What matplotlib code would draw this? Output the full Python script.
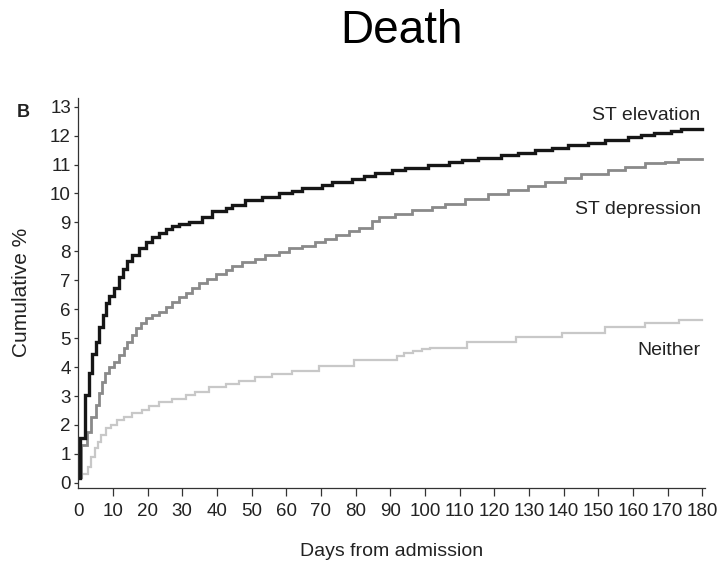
import matplotlib
matplotlib.use("Agg")
import matplotlib.pyplot as plt

plt.rcParams["font.family"] = ["Liberation Sans", "DejaVu Sans"]

# Cumulative mortality (%) by days from admission, step points (day, value)
elev_days = [0, 0.4, 2.0, 3.2, 3.9, 5.1, 6.0, 7.0, 8.0, 9.0, 10.4, 11.8, 13.0, 14.2,
             15.6, 17.6, 19.5, 21.4, 23.3, 25.2, 27.1, 29.0, 31.9, 35.8, 38.6, 42.5,
             44.3, 48.2, 53.0, 58.0, 61.7, 64.6, 70.3, 73.2, 79.0, 82.3, 85.7, 90.5,
             94.3, 101.0, 106.8, 110.6, 115.4, 122.0, 126.9, 131.7, 136.5, 141.3,
             147.0, 151.9, 158.6, 162.4, 166.2, 171.0, 173.9, 180.0]
elev_vals = [0.15, 1.55, 3.05, 3.8, 4.45, 4.88, 5.4, 5.8, 6.2, 6.44, 6.75, 7.1, 7.4, 7.65,
             7.88, 8.1, 8.33, 8.5, 8.65, 8.77, 8.86, 8.95, 9.03, 9.2, 9.38, 9.5,
             9.61, 9.76, 9.88, 10.0, 10.1, 10.18, 10.3, 10.38, 10.5, 10.62, 10.72, 10.82,
             10.88, 10.97, 11.08, 11.15, 11.22, 11.32, 11.41, 11.5, 11.57, 11.67,
             11.75, 11.85, 11.95, 12.03, 12.09, 12.15, 12.22, 12.22]

depr_days = [0, 0.7, 2.4, 3.6, 5.1, 6.0, 6.8, 7.8, 9.0, 10.4, 11.8, 13.2, 14.2, 15.6,
             16.6, 18.0, 19.5, 21.4, 23.3, 25.2, 27.1, 29.0, 31.0, 32.9, 34.8, 37.2,
             39.6, 42.5, 44.4, 47.3, 51.1, 54.0, 57.8, 60.7, 64.6, 68.4, 71.3, 74.2,
             78.0, 80.9, 84.7, 86.6, 91.4, 96.2, 102.0, 105.8, 111.6, 118.3, 124.0,
             129.8, 134.6, 140.3, 145.1, 152.8, 157.6, 163.4, 169.1, 173.0, 180.0]
depr_vals = [0.2, 1.3, 1.77, 2.28, 2.69, 3.09, 3.5, 3.79, 4.01, 4.19, 4.42, 4.65, 4.88, 5.11,
             5.34, 5.52, 5.69, 5.8, 5.92, 6.09, 6.26, 6.42, 6.55, 6.72, 6.9, 7.06,
             7.22, 7.36, 7.5, 7.62, 7.72, 7.88, 7.98, 8.1, 8.2, 8.32, 8.44, 8.56,
             8.7, 8.8, 9.05, 9.2, 9.3, 9.42, 9.53, 9.65, 9.82, 9.99, 10.12,
             10.26, 10.4, 10.52, 10.66, 10.8, 10.92, 11.04, 11.1, 11.2, 11.2]

neither_days = [0, 1.2, 2.8, 3.8, 4.8, 5.7, 6.7, 8.0, 9.5, 11.3, 13.3, 15.6, 18.5, 20.4,
                23.3, 27.1, 31.0, 33.8, 37.7, 42.5, 46.3, 51.1, 55.9, 61.7, 69.4, 79.4,
                91.9, 94.0, 96.5, 99.0, 101.5, 112.0, 126.4, 139.4, 151.9, 163.4, 173.4, 180.0]
neither_vals = [0.15, 0.32, 0.55, 0.9, 1.19, 1.42, 1.65, 1.88, 2.0, 2.17, 2.28, 2.4, 2.52, 2.67,
                2.8, 2.91, 3.02, 3.13, 3.3, 3.42, 3.53, 3.65, 3.77, 3.88, 4.05, 4.25,
                4.4, 4.47, 4.55, 4.62, 4.67, 4.88, 5.05, 5.19, 5.4, 5.52, 5.63, 5.63]

series_labels = ["ST elevation", "ST depression", "Neither"]
x_ticks = list(range(0, 181, 10))
y_ticks = list(range(0, 14))

fig = plt.figure(figsize=(7.22, 5.66), dpi=100)
ax = fig.add_axes([0.1084, 0.1373, 0.8682, 0.689])

ax.step(neither_days, neither_vals, where="post", color="#c8c8c8", lw=1.6,
        solid_joinstyle="miter")
ax.step(depr_days, depr_vals, where="post", color="#8a8a8a", lw=2.0,
        solid_joinstyle="miter")
ax.step(elev_days, elev_vals, where="post", color="#161616", lw=2.4,
        solid_joinstyle="miter")

ax.set_xlim(0, 180.8)
ax.set_ylim(-0.19, 13.29)
ax.set_xticks(x_ticks)
ax.set_yticks(y_ticks)
ax.set_xticklabels([str(t) for t in x_ticks])
ax.set_yticklabels([str(t) for t in y_ticks])

for side in ("top", "right"):
    ax.spines[side].set_visible(False)
for side in ("left", "bottom"):
    ax.spines[side].set_color("#333333")
    ax.spines[side].set_linewidth(0.9)

ax.tick_params(axis="x", direction="out", length=5.5, width=0.9, color="#333333",
               labelsize=13.5, pad=5.0, labelcolor="#222222")
ax.tick_params(axis="y", direction="out", length=2.8, width=0.9, color="#333333",
               labelsize=13.5, pad=2.5, labelcolor="#222222")
ax.xaxis.get_major_ticks()[0].tick1line.set_visible(False)

# Series labels at the right end of each curve
label_y = [12.69, 9.43, 4.59]
for text, yv in zip(series_labels, label_y):
    ax.text(179.5, yv, text, ha="right", va="center", fontsize=14, color="#222222")

fig.text(401.5 / 722, 1 - 43 / 566, "Death", ha="center", va="baseline", fontsize=33)
fig.text(17 / 722, 1 - 117 / 566, "B", ha="left", va="baseline", fontsize=13,
         fontweight="bold", color="#222222")
fig.text(22 / 722, 1 - 292 / 566, "Cumulative %", rotation=90, ha="center", va="center",
         fontsize=15, color="#222222")
fig.text(392 / 722, 1 - 551 / 566, "Days from admission", ha="center", va="center",
         fontsize=14, color="#222222")

fig.savefig("out.png", dpi=100)
